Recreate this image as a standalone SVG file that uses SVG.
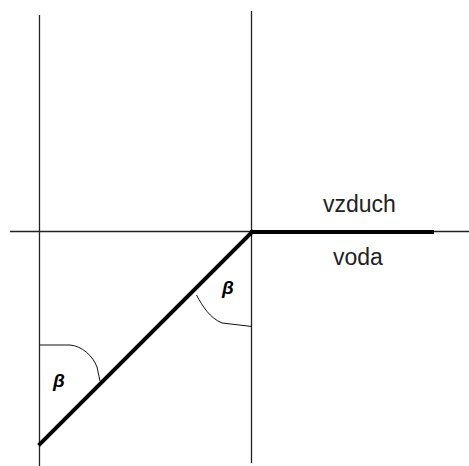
<svg xmlns="http://www.w3.org/2000/svg" width="469" height="466" viewBox="0 0 469 466">
<style>
.thin{stroke:#222;stroke-width:1.3;fill:none}
.thick{stroke:#000;stroke-width:4;fill:none;stroke-linecap:square}
.arc{stroke:#111;stroke-width:1;fill:none}
.lbl{font-family:"Liberation Sans",Arial,sans-serif;font-size:23px;fill:#222}
.beta{font-family:"Liberation Sans",Arial,sans-serif;font-size:19px;font-weight:bold;font-style:italic;fill:#000}
</style>
<rect width="469" height="466" fill="#fff"/>
<g id="axes">
<line class="thin" x1="39.5" y1="15" x2="39.5" y2="466"/>
<line class="thin" x1="251.5" y1="11" x2="251.5" y2="463"/>
<line class="thin" x1="10" y1="231.5" x2="469" y2="231.5"/>
</g>
<g id="connectors">
<line class="thick" x1="252" y1="232" x2="432" y2="232"/>
<line class="thick" x1="252" y1="232" x2="40" y2="444"/>
</g>
<g id="angle-bottom">
<path class="arc" d="M40,345 L70,345 C82,346 93,356 97,367 L100,381"/>
<text class="beta" x="53" y="387">β</text>
</g>
<g id="angle-top">
<path class="arc" d="M196.5,295 C203,307 210,318 222,323 L252,326.5"/>
<text class="beta" x="222" y="294">β</text>
</g>
<g id="labels">
<text class="lbl" x="323" y="211.5">vzduch</text>
<text class="lbl" x="333" y="265">voda</text>
</g>
</svg>
